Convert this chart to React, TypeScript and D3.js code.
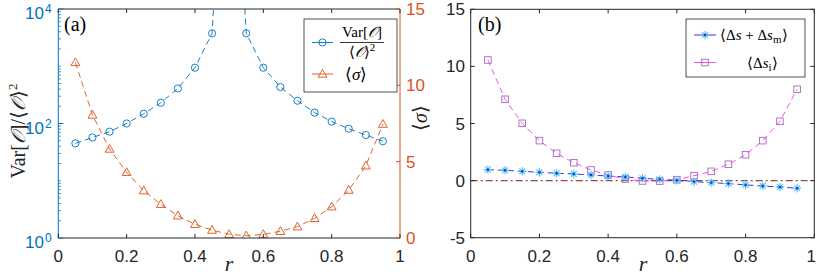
import React from 'react';
import * as d3 from 'd3';

const rValues = [0.05, 0.1, 0.15, 0.2, 0.25, 0.3, 0.35, 0.4, 0.45, 0.5, 0.55, 0.6, 0.65, 0.7, 0.75, 0.8, 0.85, 0.9, 0.95];
// Var[O]/<O>^2, the point at r = 0.5 lies far above the top of the axis
const varRatio = [45, 57, 72, 100, 148, 230, 410, 944, 3760, 1e9, 3760, 944, 433, 250, 155, 108, 81, 63, 49];
const sigma = [11.5, 8.06, 5.83, 4.3, 3.1, 2.21, 1.46, 0.9, 0.52, 0.24, 0.15, 0.24, 0.44, 0.74, 1.29, 2.05, 3.14, 4.73, 7.46];
const dsSum = [0.96, 0.9, 0.81, 0.73, 0.64, 0.58, 0.49, 0.4, 0.32, 0.2, 0.11, 0.03, -0.09, -0.18, -0.26, -0.38, -0.47, -0.56, -0.67];
const dsI = [10.56, 7.12, 5.02, 3.5, 2.39, 1.57, 0.93, 0.49, 0.14, -0.03, -0.04, 0.08, 0.43, 0.81, 1.43, 2.27, 3.5, 5.19, 8.0];

const xTicks = [0, 0.2, 0.4, 0.6, 0.8, 1];
const logTickExp = [0, 2, 4];
const sigmaTicks = [0, 5, 10, 15];
const rightTicks = [-5, 0, 5, 10, 15];

const BLUE = '#0072BD';
const ORANGE = '#D95319';
const DARK = '#262626';
const SANS = '"Liberation Sans", Arial, sans-serif';
const SERIF = '"Liberation Serif", "Times New Roman", serif';

const xL = d3.scaleLinear().domain([0, 1]).range([58.3, 400]);
const yL = d3.scaleLog().domain([1, 1e4]).range([238, 9]);
const yS = d3.scaleLinear().domain([0, 15]).range([238, 9]);
const xR = d3.scaleLinear().domain([0, 1]).range([470.7, 814.3]);
const yR = d3.scaleLinear().domain([-5, 15]).range([237.7, 9.3]);

const starPath = (s: number) => {
  const a = s * 0.707;
  return `M${-s},0L${s},0M0,${-s}L0,${s}M${-a},${-a}L${a},${a}M${-a},${a}L${a},${-a}`;
};
const triPath = 'M0,-4.6L4.4,3.2L-4.4,3.2Z';

const Circle = ({ x, y }: { x: number; y: number }) => (
  <circle cx={x} cy={y} r={3.6} fill="none" stroke={BLUE} strokeWidth={0.9} />
);
const Tri = ({ x, y }: { x: number; y: number }) => (
  <path d={triPath} transform={`translate(${x},${y})`} fill="none" stroke={ORANGE} strokeWidth={0.9} />
);
const Star = ({ x, y }: { x: number; y: number }) => (
  <path d={starPath(4.2)} transform={`translate(${x},${y})`} fill="none" stroke="#4DBEEE" strokeWidth={1.1} />
);
const Square = ({ x, y }: { x: number; y: number }) => (
  <rect x={x - 3.3} y={y - 3.3} width={6.6} height={6.6} fill="none" stroke="#A868BC" strokeWidth={0.9} />
);

const App = () => {
  const lineVar = d3.line<number>().x((_, i) => xL(rValues[i])).y(d => yL(d));
  const lineSig = d3.line<number>().x((_, i) => xL(rValues[i])).y(d => yS(d));
  const lineSum = d3.line<number>().x((_, i) => xR(rValues[i])).y(d => yR(d));
  const lineI = d3.line<number>().x((_, i) => xR(rValues[i])).y(d => yR(d));

  // minor log ticks
  const minorLog: number[] = [];
  for (let e = 0; e < 4; e++) for (let k = 1; k < 10; k++) if (!(k === 1 && e % 2 === 0)) minorLog.push(k * Math.pow(10, e));

  const [lx0, lx1] = xL.range();
  const [ly1, ly0] = [yL.range()[0], yL.range()[1]];
  const [rx0, rx1] = xR.range();
  const [ry1, ry0] = [yR.range()[0], yR.range()[1]];

  return (
    <svg width={817} height={276} style={{ position: 'absolute', left: 0, top: 0, background: '#fff' }}>
      <defs>
        <clipPath id="clipL"><rect x={lx0} y={ly0} width={lx1 - lx0} height={ly1 - ly0} /></clipPath>
        <clipPath id="clipR"><rect x={rx0} y={ry0} width={rx1 - rx0} height={ry1 - ry0} /></clipPath>
      </defs>

      {/* ---------- panel (a) ---------- */}
      <g clipPath="url(#clipL)">
        <path d={lineVar(varRatio) || ''} fill="none" stroke={BLUE} strokeWidth={0.9} strokeDasharray="6,4" />
        <path d={lineSig(sigma) || ''} fill="none" stroke={ORANGE} strokeWidth={0.9} strokeDasharray="6,4" />
        {varRatio.map((v, i) => <Circle key={'c' + i} x={xL(rValues[i])} y={yL(v)} />)}
        {sigma.map((v, i) => <Tri key={'t' + i} x={xL(rValues[i])} y={yS(v)} />)}
      </g>
      {/* box */}
      <line x1={lx0} x2={lx1} y1={ly0} y2={ly0} stroke={DARK} strokeWidth={1} />
      <line x1={lx0} x2={lx1} y1={ly1} y2={ly1} stroke={DARK} strokeWidth={1} />
      <line x1={lx0} x2={lx0} y1={ly0} y2={ly1} stroke={BLUE} strokeWidth={1} />
      <line x1={lx1} x2={lx1} y1={ly0} y2={ly1} stroke={ORANGE} strokeWidth={1} />
      {xTicks.map(t => (
        <g key={'xl' + t}>
          <line x1={xL(t)} x2={xL(t)} y1={ly1} y2={ly1 - 4} stroke={DARK} />
          <line x1={xL(t)} x2={xL(t)} y1={ly0} y2={ly0 + 4} stroke={DARK} />
          <text x={xL(t)} y={262} textAnchor="middle" fontFamily={SANS} fontSize={17} fill={DARK}>{t}</text>
        </g>
      ))}
      {logTickExp.map(e => (
        <g key={'ly' + e}>
          <line x1={lx0} x2={lx0 + 5} y1={yL(Math.pow(10, e))} y2={yL(Math.pow(10, e))} stroke={BLUE} />
          <text x={44} y={yL(Math.pow(10, e)) + 10} textAnchor="end" fontFamily={SANS} fontSize={17} fill={BLUE}>10</text>
          <text x={45} y={yL(Math.pow(10, e)) + 4} textAnchor="start" fontFamily={SANS} fontSize={12} fill={BLUE}>{e}</text>
        </g>
      ))}
      {minorLog.map((v, i) => (
        <line key={'ml' + i} x1={lx0} x2={lx0 + 2.5} y1={yL(v)} y2={yL(v)} stroke={BLUE} strokeWidth={0.8} />
      ))}
      {sigmaTicks.map(t => (
        <g key={'sy' + t}>
          <line x1={lx1} x2={lx1 - 4} y1={yS(t)} y2={yS(t)} stroke={ORANGE} />
          <text x={406} y={yS(t) + 6} textAnchor="start" fontFamily={SANS} fontSize={17} fill={ORANGE}>{t}</text>
        </g>
      ))}
      <text x={64} y={31} fontFamily={SERIF} fontSize={20} fill="#000">(a)</text>
      <text transform="translate(25,131) rotate(-90)" textAnchor="middle" fontFamily={SERIF} fontSize={20} fill={DARK}>
        Var[<tspan fontStyle="italic">𝒪</tspan>]/⟨<tspan fontStyle="italic">𝒪</tspan>⟩<tspan dy={-8} fontSize={13}>2</tspan>
      </text>
      <text transform="translate(427,118) rotate(-90)" textAnchor="middle" fontFamily={SERIF} fontSize={20} fill={DARK}>
        ⟨<tspan fontStyle="italic">σ</tspan>⟩
      </text>
      <text x={229} y={271} textAnchor="middle" fontFamily={SERIF} fontStyle="italic" fontSize={22} fill={DARK}>r</text>

      {/* legend (a) */}
      <rect x={304} y={19} width={93} height={73} fill="#fff" stroke={DARK} strokeWidth={0.8} />
      <line x1={312} x2={333} y1={42.5} y2={42.5} stroke={BLUE} strokeWidth={0.9} />
      <Circle x={322.5} y={42.5} />
      <text x={362} y={37} textAnchor="middle" fontFamily={SERIF} fontSize={15} fill="#000">Var[<tspan fontStyle="italic">𝒪</tspan>]</text>
      <line x1={340} x2={384} y1={42.5} y2={42.5} stroke="#000" strokeWidth={0.8} />
      <text x={362} y={57} textAnchor="middle" fontFamily={SERIF} fontSize={15} fill="#000">⟨<tspan fontStyle="italic">𝒪</tspan>⟩<tspan dy={-6} fontSize={11}>2</tspan></text>
      <line x1={312} x2={333} y1={74} y2={74} stroke={ORANGE} strokeWidth={0.9} />
      <Tri x={322.5} y={74} />
      <text x={345} y={80} fontFamily={SERIF} fontSize={17} fill="#000">⟨<tspan fontStyle="italic">σ</tspan>⟩</text>

      {/* ---------- panel (b) ---------- */}
      <g clipPath="url(#clipR)">
        <line x1={rx0} x2={rx1} y1={yR(0)} y2={yR(0)} stroke="#8E4C4C" strokeWidth={1.3} strokeDasharray="7,3,2,3" />
        <path d={lineI(dsI) || ''} fill="none" stroke="#FF33FF" strokeWidth={0.9} strokeDasharray="6,4" />
        <path d={lineSum(dsSum) || ''} fill="none" stroke="#1A1AFF" strokeWidth={0.9} strokeDasharray="6,4" />
        {dsI.map((v, i) => <Square key={'s' + i} x={xR(rValues[i])} y={yR(v)} />)}
        {dsSum.map((v, i) => (
          <g key={'st' + i}>
            <Star x={xR(rValues[i])} y={yR(v)} />
            <circle cx={xR(rValues[i])} cy={yR(v)} r={1.2} fill="#1A3AD8" />
          </g>
        ))}
      </g>
      <rect x={rx0} y={ry0} width={rx1 - rx0} height={ry1 - ry0} fill="none" stroke={DARK} strokeWidth={1} />
      {xTicks.map(t => (
        <g key={'xr' + t}>
          <line x1={xR(t)} x2={xR(t)} y1={ry1} y2={ry1 - 4} stroke={DARK} />
          <line x1={xR(t)} x2={xR(t)} y1={ry0} y2={ry0 + 4} stroke={DARK} />
          <text x={t === 1 ? xR(t) - 3 : xR(t)} y={262} textAnchor="middle" fontFamily={SANS} fontSize={17} fill={DARK}>{t}</text>
        </g>
      ))}
      {rightTicks.map(t => (
        <g key={'yr' + t}>
          <line x1={rx0} x2={rx0 + 4} y1={yR(t)} y2={yR(t)} stroke={DARK} />
          <line x1={rx1} x2={rx1 - 4} y1={yR(t)} y2={yR(t)} stroke={DARK} />
          <text x={465} y={yR(t) + 6} textAnchor="end" fontFamily={SANS} fontSize={17} fill={DARK}>{t}</text>
        </g>
      ))}
      <text x={478} y={31} fontFamily={SERIF} fontSize={20} fill="#000">(b)</text>
      <text x={643} y={271} textAnchor="middle" fontFamily={SERIF} fontStyle="italic" fontSize={22} fill={DARK}>r</text>

      {/* legend (b) */}
      <rect x={686} y={19} width={119} height={58} fill="#fff" stroke={DARK} strokeWidth={0.8} />
      <line x1={694} x2={716} y1={35} y2={35} stroke="#1A1AFF" strokeWidth={0.9} />
      <Star x={705} y={35} />
      <circle cx={705} cy={35} r={1.2} fill="#1A3AD8" />
      <text x={720} y={40} fontFamily={SERIF} fontSize={15} fill="#000">
        ⟨Δ<tspan fontStyle="italic">s</tspan> + Δ<tspan fontStyle="italic">s</tspan><tspan dy={3} fontSize={11}>m</tspan><tspan dy={-3}>⟩</tspan>
      </text>
      <line x1={694} x2={716} y1={62.5} y2={62.5} stroke="#FF33FF" strokeWidth={0.9} />
      <Square x={705} y={62.5} />
      <text x={747} y={68} fontFamily={SERIF} fontSize={15} fill="#000">
        ⟨Δ<tspan fontStyle="italic">s</tspan><tspan dy={3} fontSize={11}>i</tspan><tspan dy={-3}>⟩</tspan>
      </text>
    </svg>
  );
};

export default App;
